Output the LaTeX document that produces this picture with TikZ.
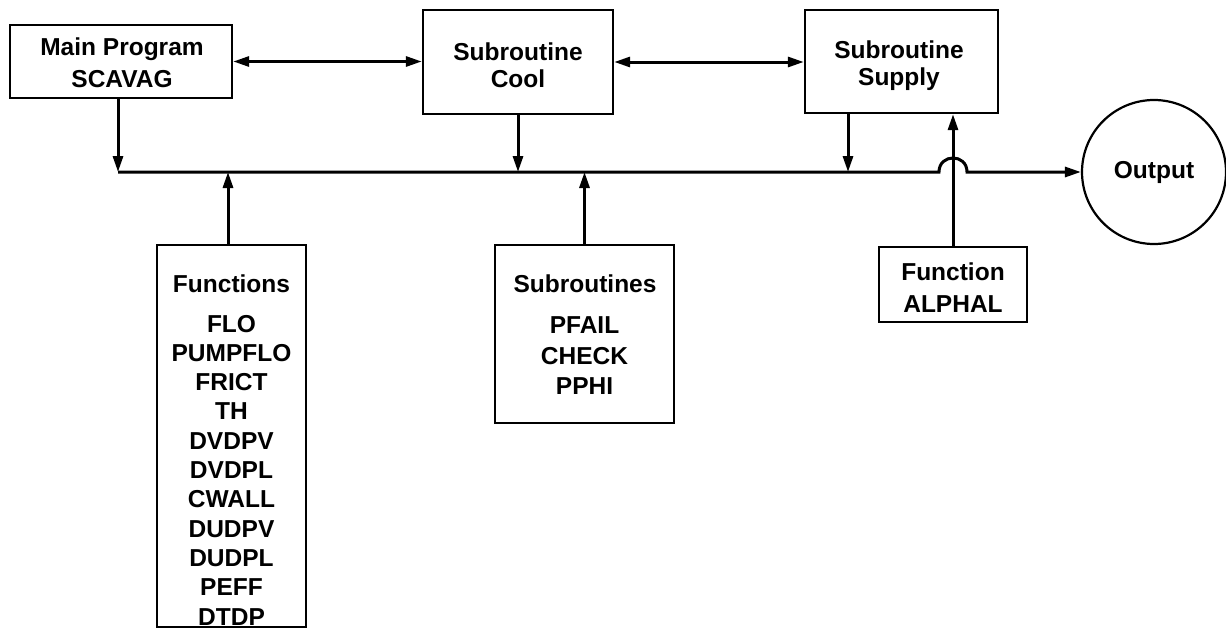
\documentclass[tikz,border=0pt]{standalone}
\usepackage{fontspec}
\setmainfont{Liberation Sans}
\usetikzlibrary{arrows.meta}
\begin{document}
\begin{tikzpicture}[x=1pt,y=-1pt,
  box/.style={draw, rectangle, line width=2.4pt, inner sep=0pt},
  lbl/.style={font=\fontsize{24.5}{29}\selectfont\bfseries, inner sep=0pt, anchor=base},
  conn/.style={line width=3pt},
  tip/.tip={Triangle[length=16pt,width=10pt]},
  arr/.style={conn, -tip},
  darr/.style={conn, tip-tip}
]
\useasboundingbox (0,0) rectangle (1226,629);

% boxes
\node[box, minimum width=222pt, minimum height=73pt] (main) at (121,61.5) {};
\node[lbl] (mainA) at (122,55) {Main Program};
\node[lbl] (mainB) at (122,87) {SCAVAG};

\node[box, minimum width=190pt, minimum height=104pt] (cool) at (518,62) {};
\node[lbl] (coolA) at (518,60) {Subroutine};
\node[lbl] (coolB) at (518,87) {Cool};

\node[box, minimum width=193pt, minimum height=103pt] (supply) at (901.5,61.5) {};
\node[lbl] (supA) at (899,58) {Subroutine};
\node[lbl] (supB) at (899,85) {Supply};

\node[box, minimum width=148pt, minimum height=75pt] (alphal) at (953,284.5) {};
\node[lbl] (alA) at (953,280) {Function};
\node[lbl] (alB) at (953,312) {ALPHAL};

\node[box, minimum width=149pt, minimum height=382pt] (funcs) at (231.5,436) {};
\node[lbl] (fnH) at (231.5,292) {Functions};
\foreach \t [count=\i from 0] in {FLO,PUMPFLO,FRICT,TH,DVDPV,DVDPL,CWALL,DUDPV,DUDPL,PEFF,DTDP}
  \node[lbl] (fn\i) at (231.5,332+29.3*\i) {\t};

\node[box, minimum width=179pt, minimum height=178pt] (subs) at (584.5,334) {};
\node[lbl] (sbH) at (585,292) {Subroutines};
\node[lbl] (sb1) at (584.5,333) {PFAIL};
\node[lbl] (sb2) at (584.5,364) {CHECK};
\node[lbl] (sb3) at (584.5,394) {PPHI};

\node[draw, circle, line width=2.2pt, minimum size=144pt, inner sep=0pt,
      font=\fontsize{24.5}{29}\selectfont\bfseries] (out) at (1154,172) {Output};

% bus coordinates
\coordinate (busL) at (118,172);
\coordinate (hopL) at (939,172);
\coordinate (hopR) at (967,172);
\coordinate (supD) at (848,172);
\coordinate (fnU) at (228,172);

% connectors
\draw[darr] (main.east) -- (main.east -| cool.west);
\draw[darr] (cool.east) -- (cool.east -| supply.west);

\draw[arr] (main.south -| busL) -- (busL);
\draw[arr] (cool.south) -- (cool.south |- busL);
\draw[arr] (supD |- supply.south) -- (supD);
\draw[arr] (fnU |- funcs.north) -- (fnU);
\draw[arr] (subs.north) -- (subs.north |- busL);
\draw[arr] (alphal.north) -- (alphal.north |- supply.south);

\draw[arr] (busL) -- (hopL) .. controls (939,153.3) and (967,153.3) .. (hopR) -- (out.west);
\end{tikzpicture}
\end{document}
